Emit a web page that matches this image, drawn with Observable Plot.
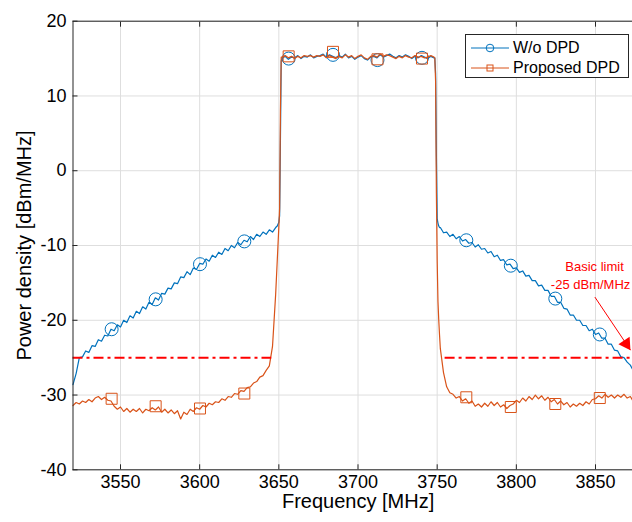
<!DOCTYPE html>
<html><head><meta charset="utf-8">
<script src="https://cdn.jsdelivr.net/npm/d3@7"></script>
<script src="https://cdn.jsdelivr.net/npm/@observablehq/plot@0.6"></script>
<style>
html,body{margin:0;padding:0;background:#fff;overflow:hidden;}
#wrap{position:relative;width:632px;height:522px;overflow:hidden;font-family:"Liberation Sans",Arial,Helvetica,sans-serif;}
#wrap svg{overflow:hidden;}
#legend{position:absolute;left:465px;top:34px;width:164px;height:44px;box-sizing:border-box;border:1px solid #262626;background:#fff;}
#legend .row{position:absolute;left:0;height:20px;width:160px;}
#legend .row svg{position:absolute;left:4px;top:0;}
#legend .row span{position:absolute;left:47px;top:0;line-height:20px;font-size:16px;color:#000;white-space:nowrap;}
</style></head>
<body><div id="wrap"></div>
<script>
// ---- axis ticks ----
const xTicks = [3550, 3600, 3650, 3700, 3750, 3800, 3850];
const yTicks = [-40, -30, -20, -10, 0, 10, 20];

// ---- series names / colours ----
const seriesNames = ["W/o DPD", "Proposed DPD"];
const seriesColors = ["#0072BD", "#D95319"];

// ---- frequency bins (MHz) ----
const freqsLeft = d3.range(3520, 3648.1, 2);          // 65 bins
const edgeLeftFreqs = [3649, 3650, 3650.5, 3651, 3651.5];
const freqsBand = d3.range(3652, 3748.1, 2);          // 49 bins
const edgeRightFreqs = [3748.5, 3749, 3749.5, 3750, 3750.5, 3751, 3751.5];
const freqsRight = d3.range(3752, 3874.1, 2);         // 62 bins

// ---- W/o DPD power density (dBm/MHz) ----
const woLeft = [
  -28.6,-27.1,-25.0,-24.9,-24.1,-24.3,-23.4,-23.5,-22.6,-22.8,
  -22.0,-22.1,-21.2,-21.4,-20.6,-20.9,-20.0,-20.3,-19.4,-19.7,
  -18.8,-19.1,-18.2,-18.5,-17.6,-17.9,-17.0,-17.3,-16.4,-16.5,
  -15.7,-15.8,-15.0,-15.1,-14.2,-14.3,-13.5,-13.9,-13.0,-13.2,
  -12.4,-12.5,-11.8,-12.1,-11.3,-11.6,-10.9,-11.2,-10.4,-10.7,
  -10.0,-10.3,-9.6,-9.9,-9.3,-9.5,-8.8,-9.2,-8.5,-8.8,
  -8.2,-8.5,-7.9,-8.2,-7.6];
const woEdgeLeft = [-7.4, -6.9, -6.0, 4.0, 14.7];
const woBand = [
  15.0,15.3,14.9,15.2,15.1,15.4,15.0,15.3,15.2,15.5,
  15.1,15.3,15.4,15.6,15.2,15.5,15.3,15.1,15.4,15.2,
  15.6,15.1,15.3,14.9,15.2,15.4,15.0,14.8,15.2,15.3,
  15.1,15.5,15.2,15.4,15.6,15.3,15.1,15.4,15.2,15.5,
  15.3,15.0,15.3,15.1,15.4,15.2,15.0,15.3,15.1];
const woEdgeRight = [15.1, 13.0, 2.0, -6.4, -7.0, -7.4, -7.6];
const woRight = [
  -7.6,-8.3,-8.2,-8.8,-8.5,-9.1,-8.8,-9.4,-9.2,-9.7,
  -9.6,-10.2,-9.9,-10.5,-10.4,-11.0,-10.8,-11.5,-11.3,-12.0,
  -11.9,-12.6,-12.5,-13.1,-13.0,-13.6,-13.4,-14.1,-14.0,-14.7,
  -14.7,-15.4,-15.3,-16.0,-16.0,-16.8,-16.8,-17.6,-17.6,-18.4,
  -18.5,-19.3,-19.3,-20.0,-20.0,-20.7,-20.7,-21.4,-21.2,-21.9,
  -21.7,-22.4,-22.4,-23.2,-23.2,-24.0,-24.1,-24.9,-25.0,-25.6,
  -26.0,-26.8];

// ---- Proposed DPD power density (dBm/MHz) ----
const prLeft = [
  -31.4,-31.0,-31.2,-30.8,-31.0,-30.6,-30.9,-30.4,-30.2,-30.6,
  -30.3,-30.7,-30.8,-31.5,-31.9,-31.6,-32.2,-31.8,-32.3,-31.9,
  -32.2,-31.8,-32.4,-31.9,-32.1,-31.7,-32.0,-31.6,-32.3,-31.9,
  -32.4,-32.0,-32.5,-32.1,-33.2,-32.3,-32.6,-31.9,-32.2,-31.7,
  -31.9,-31.4,-31.6,-31.1,-31.3,-30.9,-31.0,-30.5,-30.7,-30.2,
  -30.3,-29.8,-29.9,-29.4,-29.5,-29.0,-28.9,-28.4,-28.2,-27.6,
  -27.4,-26.7,-26.1,-23.5,-16.5];
const prEdgeLeft = [-12.0, -7.5, -5.0, 8.0, 15.2];
const prBand = [
  15.2,15.4,15.1,15.3,15.0,15.3,15.1,15.4,15.3,15.4,
  15.2,15.4,15.3,15.5,15.1,15.4,15.2,15.0,15.3,15.1,
  15.5,15.2,15.4,15.0,15.3,15.5,15.1,14.9,15.3,15.4,
  15.2,15.6,15.3,15.5,15.4,15.2,15.0,15.3,15.1,15.4,
  15.2,15.1,15.4,15.2,15.3,15.1,15.2,15.4,15.2];
const prEdgeRight = [15.1, 12.0, -3.0, -12.0, -17.5, -20.0, -22.0];
const prRight = [
  -23.8,-27.0,-28.9,-29.7,-29.9,-30.4,-30.2,-30.8,-30.5,-31.1,
  -30.8,-31.5,-31.2,-31.6,-31.1,-31.5,-30.9,-31.4,-31.0,-31.6,
  -31.3,-31.8,-31.4,-31.2,-30.7,-31.0,-30.4,-30.8,-30.2,-30.6,
  -30.0,-30.5,-30.1,-30.7,-30.3,-30.9,-30.6,-31.2,-30.8,-31.3,
  -31.0,-31.6,-31.2,-31.5,-31.1,-31.4,-30.9,-31.2,-30.6,-30.5,
  -30.1,-30.4,-29.9,-30.3,-30.0,-30.4,-30.0,-30.3,-29.9,-30.4,
  -30.2,-30.9];

// ---- marker samples ----
const markerFreqs = [3544.4, 3572.2, 3600.2, 3628.2, 3656.2, 3684.2, 3712.3, 3740.4, 3768.4, 3796.5, 3824.6, 3852.7];
const woMarkers = [-21.2, -17.2, -12.5, -9.45, 15.0, 15.5, 14.8, 15.1, -9.3, -12.7, -17.1, -21.9];
const prMarkers = [-30.5, -31.5, -31.8, -29.8, 15.3, 15.9, 14.9, 15.0, -30.3, -31.6, -31.2, -30.4];

// ---- limit line & annotation ----
const limitLevel = -25;
const limitStarts = [3520, 3755];
const limitEnds = [3645.5, 3875];
const annoTexts = ["Basic limit", "-25 dBm/MHz"];
const annoX = [3849.4, 3846.9];
const annoY = [-12.9, -15.3];
const arrowFrom = [3849.6, -16.9];
const arrowTo = [3872.1, -24.0];

// ---- build tables ----
function build(segs) {
  const out = [];
  segs.forEach(([fs, vs]) => fs.forEach((f, i) => out.push({f, v: vs[i]})));
  return out;
}
const woData = build([[freqsLeft, woLeft], [edgeLeftFreqs, woEdgeLeft], [freqsBand, woBand], [edgeRightFreqs, woEdgeRight], [freqsRight, woRight]]);
const prData = build([[freqsLeft, prLeft], [edgeLeftFreqs, prEdgeLeft], [freqsBand, prBand], [edgeRightFreqs, prEdgeRight], [freqsRight, prRight]]);
const woMk = markerFreqs.map((f, i) => ({f, v: woMarkers[i]}));
const prMk = markerFreqs.map((f, i) => ({f, v: prMarkers[i]}));
const limits = limitStarts.map((s, i) => ({x1: s, x2: limitEnds[i], y: limitLevel}));
const annos = annoTexts.map((t, i) => ({t, x: annoX[i], y: annoY[i]}));
const arrows = [{x1: arrowFrom[0], y1: arrowFrom[1], x2: arrowTo[0], y2: arrowTo[1]}];

const angle = Math.atan2(53.3, 35.7) * 180 / Math.PI; // screen direction of arrow
const ax = Math.cos(angle * Math.PI / 180), ay = Math.sin(angle * Math.PI / 180);
const fmt = d => String(d);

const chart = Plot.plot({
  width: 632,
  height: 522,
  marginLeft: 72.5,
  marginRight: -2.6,
  marginTop: 20.7,
  marginBottom: 52.7,
  style: {fontFamily: '"Liberation Sans", Arial, Helvetica, sans-serif', color: "#262626", background: "#fff"},
  x: {domain: [3520, 3875]},
  y: {domain: [-40, 20]},
  marks: [
    Plot.gridX(xTicks, {stroke: "#dedede", strokeOpacity: 1}),
    Plot.gridY(yTicks, {stroke: "#dedede", strokeOpacity: 1}),
    Plot.line(woData, {x: "f", y: "v", stroke: seriesColors[0], strokeWidth: 1.2}),
    Plot.dot(woMk, {x: "f", y: "v", symbol: "circle", r: 6.5, stroke: seriesColors[0], strokeWidth: 1, fill: "none"}),
    Plot.line(prData, {x: "f", y: "v", stroke: seriesColors[1], strokeWidth: 1.2}),
    Plot.dot(prMk, {x: "f", y: "v", symbol: "square", r: 6.2, stroke: seriesColors[1], strokeWidth: 1, fill: "none"}),
    Plot.ruleY(limits, {y: "y", x1: "x1", x2: "x2", stroke: "#ff0000", strokeWidth: 2, strokeDasharray: "10,4,3,4"}),
    Plot.link(arrows, {x1: "x1", y1: "y1", x2: "x2", y2: "y2", stroke: "#ff0000", strokeWidth: 1}),
    Plot.dot(arrows, {x: "x2", y: "y2", symbol: "triangle", r: 5, fill: "#ff0000", stroke: "none",
      rotate: angle + 90, dx: -ax * 7.8, dy: -ay * 7.8}),
    Plot.text(annos, {x: "x", y: "y", text: "t", fill: "#ff0000", fontSize: 13}),
    Plot.frame({stroke: "#262626", strokeWidth: 1}),
    Plot.axisX(xTicks, {anchor: "bottom", tickSize: -5, tickPadding: 10, fontSize: 18, label: null, fill: "#000", tickFormat: fmt}),
    Plot.axisX(xTicks, {anchor: "top", tickSize: -5, tickFormat: () => "", label: null}),
    Plot.axisY(yTicks, {anchor: "left", tickSize: -5, tickPadding: 11.5, fontSize: 18, label: null, fill: "#000", tickFormat: fmt}),
    Plot.text(["Frequency [MHz]"], {frameAnchor: "bottom", textAnchor: "middle", lineAnchor: "middle", dx: 4, dy: 31.5, fontSize: 20, fill: "#000"}),
    Plot.text(["Power density [dBm/MHz]"], {frameAnchor: "left", textAnchor: "middle", lineAnchor: "middle", rotate: -90, dx: -48, dy: 0, fontSize: 20, fill: "#000"})
  ]
});
const wrap = document.getElementById("wrap");
wrap.appendChild(chart);

// legend overlay
const leg = document.createElement("div");
leg.id = "legend";
seriesNames.forEach((name, i) => {
  const row = document.createElement("div");
  row.className = "row";
  row.style.top = (2.5 + i * 20) + "px";
  const c = seriesColors[i];
  const mk = i === 0
    ? `<circle cx="20" cy="10" r="3.8" fill="none" stroke="${c}" stroke-width="1"/>`
    : `<rect x="17" y="7" width="6" height="6" fill="none" stroke="${c}" stroke-width="1"/>`;
  row.innerHTML = `<svg width="40" height="20"><line x1="1" y1="10" x2="39" y2="10" stroke="${c}" stroke-width="1"/>${mk}</svg><span>${name}</span>`;
  leg.appendChild(row);
});
wrap.appendChild(leg);
</script>
</body></html>
